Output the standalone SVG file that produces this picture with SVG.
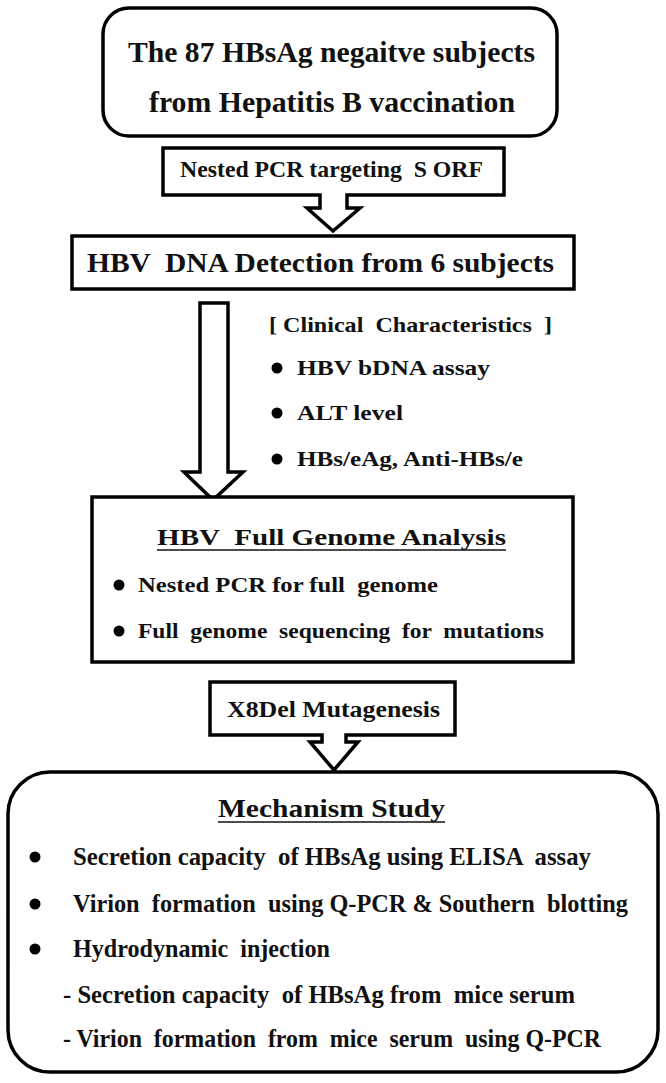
<svg xmlns="http://www.w3.org/2000/svg" width="666" height="1083" viewBox="0 0 666 1083">
<style>
.box{fill:#fff;stroke:#000;stroke-width:3.5;stroke-linejoin:miter}
.t{font-family:"Liberation Serif","Times New Roman",serif;font-weight:bold;fill:#111;white-space:pre}
.dot{fill:#000}
.ul{stroke:#111;stroke-width:1.5}
</style>
<rect width="666" height="1083" fill="#fff"/>
<g id="connectors">
<path class="box" d="M200,303 H228 V472 H243 L213,500 L184,472 H200 Z"/>
</g>
<g id="n-subjects">
<rect class="box" x="103" y="8" width="454" height="128" rx="26"/>
<text class="t" x="128" y="62" font-size="30" textLength="407" lengthAdjust="spacingAndGlyphs">The 87 HBsAg negaitve subjects</text>
<text class="t" x="149" y="112" font-size="30" textLength="366" lengthAdjust="spacingAndGlyphs">from Hepatitis B vaccination</text>
</g>
<g id="n-nested">
<path class="box" d="M163,148 H504 V195 H347 V208 H360 L333,231 L307,208 H320 V195 H163 Z"/>
<text class="t" x="180" y="177" font-size="23" textLength="303" lengthAdjust="spacingAndGlyphs">Nested PCR targeting  S ORF</text>
</g>
<g id="n-detection">
<rect class="box" x="72" y="236" width="502" height="53"/>
<text class="t" x="87" y="272" font-size="28" textLength="467" lengthAdjust="spacingAndGlyphs">HBV  DNA Detection from 6 subjects</text>
</g>
<g id="n-clinical">
<text class="t" x="269" y="332" font-size="22" textLength="283" lengthAdjust="spacingAndGlyphs">[ Clinical  Characteristics  ]</text>
<circle class="dot" cx="277" cy="368" r="5.5"/>
<text class="t" x="297" y="375" font-size="22" textLength="193" lengthAdjust="spacingAndGlyphs">HBV bDNA assay</text>
<circle class="dot" cx="277" cy="413" r="5.5"/>
<text class="t" x="297" y="420" font-size="22" textLength="106" lengthAdjust="spacingAndGlyphs">ALT level</text>
<circle class="dot" cx="277" cy="459" r="5.5"/>
<text class="t" x="297" y="466" font-size="22" textLength="226" lengthAdjust="spacingAndGlyphs">HBs/eAg, Anti-HBs/e</text>
</g>
<g id="n-genome">
<rect class="box" x="92" y="497" width="481" height="165"/>
<text class="t" x="157" y="545" font-size="24" textLength="349" lengthAdjust="spacingAndGlyphs">HBV  Full Genome Analysis</text>
<line class="ul" x1="157" y1="550" x2="506" y2="550"/>
<circle class="dot" cx="119" cy="585" r="5.5"/>
<text class="t" x="138" y="592" font-size="22" textLength="300" lengthAdjust="spacingAndGlyphs">Nested PCR for full  genome</text>
<circle class="dot" cx="119" cy="631" r="5.5"/>
<text class="t" x="138" y="638" font-size="22" textLength="406" lengthAdjust="spacingAndGlyphs">Full  genome  sequencing  for  mutations</text>
</g>
<g id="n-x8del">
<path class="box" d="M210,682 H455 V735 H346 V742 H358 L334,770 L310,742 H322 V735 H210 Z"/>
<text class="t" x="227" y="717" font-size="24" textLength="213" lengthAdjust="spacingAndGlyphs">X8Del Mutagenesis</text>
</g>
<g id="n-mechanism">
<rect class="box" x="8" y="772" width="650" height="300" rx="42"/>
<text class="t" x="218" y="817" font-size="26" textLength="227" lengthAdjust="spacingAndGlyphs">Mechanism Study</text>
<line class="ul" x1="218" y1="822" x2="445" y2="822"/>
<circle class="dot" cx="35" cy="857" r="5.5"/>
<text class="t" x="73" y="865" font-size="25" textLength="518" lengthAdjust="spacingAndGlyphs">Secretion capacity  of HBsAg using ELISA  assay</text>
<circle class="dot" cx="35" cy="904" r="5.5"/>
<text class="t" x="73" y="912" font-size="25" textLength="555" lengthAdjust="spacingAndGlyphs">Virion  formation  using Q-PCR &amp; Southern  blotting</text>
<circle class="dot" cx="35" cy="949" r="5.5"/>
<text class="t" x="73" y="957" font-size="25" textLength="257" lengthAdjust="spacingAndGlyphs">Hydrodynamic  injection</text>
<text class="t" x="63" y="1003" font-size="25" textLength="512" lengthAdjust="spacingAndGlyphs">- Secretion capacity  of HBsAg from  mice serum</text>
<text class="t" x="63" y="1047" font-size="25" textLength="538" lengthAdjust="spacingAndGlyphs">- Virion  formation  from  mice  serum  using Q-PCR</text>
</g>
</svg>
